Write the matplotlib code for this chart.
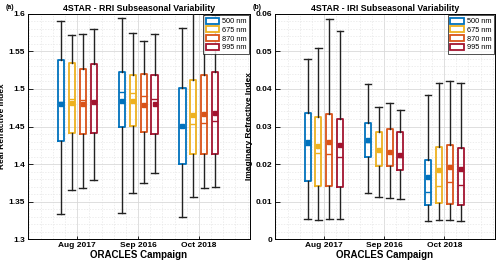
import matplotlib.pyplot as plt
from matplotlib.patches import Patch
from matplotlib.ticker import MultipleLocator, FormatStrFormatter

campaigns = ['Aug 2017', 'Sep 2016', 'Oct 2018']
waves = ['500 nm', '675 nm', '870 nm', '995 nm']
colors = ['#0072BD', '#EDB120', '#D95319', '#A2142F']

# RRI stats per campaign, per wavelength: [whislo, q1, med, q3, whishi, mean]
rri = [
    [[1.334, 1.4305, 1.482, 1.539, 1.591, 1.480],
     [1.365, 1.442, 1.487, 1.535, 1.572, 1.4815],
     [1.368, 1.440, 1.485, 1.527, 1.5734, 1.480],
     [1.379, 1.4415, 1.4846, 1.533, 1.5796, 1.483]],
    [[1.3346, 1.4487, 1.4966, 1.5228, 1.594, 1.484],
     [1.3617, 1.4504, 1.4944, 1.519, 1.575, 1.4842],
     [1.375, 1.4424, 1.4908, 1.5206, 1.5636, 1.479],
     [1.3878, 1.4398, 1.4864, 1.5192, 1.5738, 1.4797]],
    [[1.330, 1.400, 1.449, 1.5019, 1.581, 1.4504],
     [1.3563, 1.413, 1.4535, 1.512, 1.605, 1.465],
     [1.3674, 1.413, 1.4544, 1.5183, 1.61, 1.4673],
     [1.370, 1.413, 1.457, 1.522, 1.599, 1.4686]],
]

# IRI stats, same layout
iri = [
    [[0.00542, 0.01556, 0.02498, 0.0335, 0.0481, 0.0260],
     [0.00516, 0.01413, 0.02284, 0.03244, 0.0508, 0.0248],
     [0.00542, 0.01413, 0.02258, 0.03324, 0.0586, 0.0260],
     [0.00542, 0.01378, 0.02196, 0.0320, 0.05547, 0.02498]],
    [[0.01227, 0.02196, 0.02596, 0.03093, 0.04133, 0.02631],
     [0.01129, 0.01947, 0.02364, 0.02844, 0.03511, 0.02364],
     [0.01102, 0.01947, 0.0232, 0.02942, 0.03618, 0.0232],
     [0.01058, 0.0184, 0.02196, 0.02844, 0.03431, 0.02249]],
    [[0.0048, 0.00898, 0.01262, 0.02098, 0.03849, 0.01662],
     [0.00507, 0.00951, 0.01404, 0.02453, 0.04151, 0.0184],
     [0.00507, 0.00924, 0.01511, 0.02507, 0.04213, 0.01911],
     [0.00489, 0.00907, 0.0144, 0.02427, 0.04151, 0.01876]],
]

offsets = [-0.27, -0.09, 0.09, 0.27]

plt.rcParams['font.family'] = 'Liberation Sans'
fig = plt.figure(figsize=(5, 2.63), dpi=100)
ax1 = fig.add_axes([0.056, 0.091, 0.444, 0.856])
ax2 = fig.add_axes([0.55, 0.091, 0.44, 0.856])


def draw(ax, data, ylim, major, minor, title, ylabel, tag):
    for j in range(4):
        stats = []
        pos = []
        for i in range(3):
            lo, q1, med, q3, hi, mean = data[i][j]
            stats.append(dict(whislo=lo, q1=q1, med=med, q3=q3, whishi=hi, mean=mean))
            pos.append(i + 1 + offsets[j])
        c = colors[j]
        ax.bxp(stats, positions=pos, widths=0.1, showmeans=True, showfliers=False,
               boxprops=dict(color=c, lw=1.3),
               medianprops=dict(color=c, lw=1.0),
               whiskerprops=dict(color='#222222', lw=1.0),
               capprops=dict(color='#222222', lw=1.0),
               capwidths=0.11,
               meanprops=dict(marker='s', markersize=3.2, markerfacecolor=c,
                              markeredgecolor=c),
               manage_ticks=False, zorder=3)
    ax.set_xlim(0.19, 3.84)
    ax.set_ylim(*ylim)
    ax.set_xticks([1, 2, 3])
    ax.set_xticklabels(campaigns, fontweight='bold')
    ax.yaxis.set_major_locator(MultipleLocator(major))
    ax.yaxis.set_minor_locator(MultipleLocator(minor))
    ax.yaxis.set_major_formatter(FormatStrFormatter('%g'))
    ax.xaxis.set_minor_locator(MultipleLocator(0.2))
    ax.grid(which='major', color='#d9d9d9', lw=0.6)
    ax.grid(which='minor', color='#e6e6e6', lw=0.5, ls=(0, (2, 2)))
    ax.set_axisbelow(True)
    ax.tick_params(which='both', direction='in', labelsize=6, width=0.6, pad=2)
    ax.tick_params(which='minor', length=0)
    ax.tick_params(axis='x', length=2)
    for lab in ax.get_yticklabels():
        lab.set_fontweight('bold')
    for s in ax.spines.values():
        s.set_linewidth(0.7)
    ax.set_title(title, fontsize=6.3, fontweight='bold', pad=2)
    ax.set_xlabel('ORACLES Campaign', fontsize=7, fontweight='bold', labelpad=1)
    ax.set_ylabel(ylabel, fontsize=6, fontweight='bold', labelpad=2)
    handles = [Patch(facecolor='white', edgecolor=c, lw=1.3) for c in colors]
    leg = ax.legend(handles, waves, loc='upper right', fontsize=5.3, frameon=True,
                    fancybox=False, edgecolor='black', borderpad=0.3,
                    handlelength=1.8, handleheight=0.9, labelspacing=0.15,
                    handletextpad=0.4, borderaxespad=0.2)
    leg.get_frame().set_linewidth(0.6)
    leg.set_zorder(5)
    ax.text(-0.1, 1.02, tag, transform=ax.transAxes, fontsize=5, fontweight='bold')


draw(ax1, rri, (1.3, 1.6), 0.05, 0.01, '4STAR - RRI Subseasonal Variability',
     'Real Refractive Index', '(a)')
draw(ax2, iri, (0, 0.06), 0.01, 0.002, '4STAR - IRI Subseasonal Variability',
     'Imaginary Refractive Index', '(b)')

fig.savefig('out.png', dpi=100)
